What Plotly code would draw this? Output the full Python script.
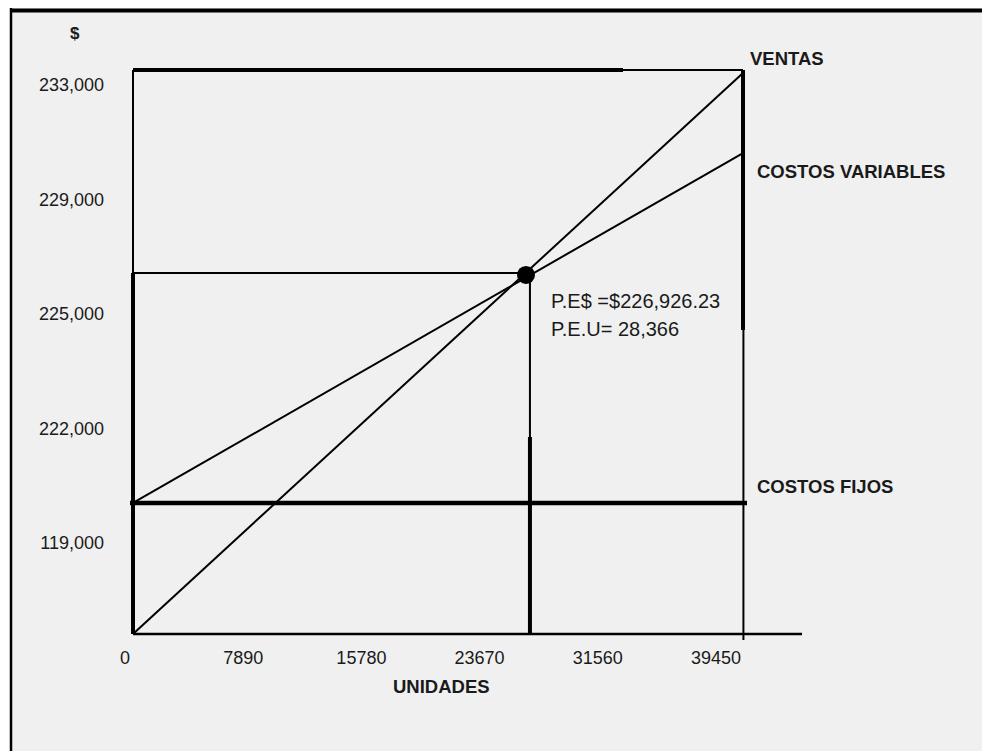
import plotly.graph_objects as go

# ---------------- data (in axis units) ----------------
x_tick_vals = [0, 7890, 15780, 23670, 31560, 39450]
x_tick_text = ["0", "7890", "15780", "23670", "31560", "39450"]

y_tick_vals = [233000, 229000, 225000, 221000, 217000]
y_tick_text = ["233,000", "229,000", "225,000", "222,000", "119,000"]

# sales line (VENTAS)
ventas_x = [534, 41252]
ventas_y = [213821, 233419]
# variable costs line (COSTOS VARIABLES)
cv_x = [534, 41252]
cv_y = [218398, 230624]
# fixed costs line (COSTOS FIJOS)
cf_x = [334, 41519]
cf_y = [218398, 218398]
# break-even point
pe_x = [26767]
pe_y = [226363]

# frame / guide segments
box_top_thick = ([534, 33242], [233524, 233524])
box_top_thin = ([33242, 41252], [233524, 233524])
left_thin = ([534, 534], [233524, 226432])
left_thick = ([534, 534], [226432, 213821])
pe_h = ([534, 26767], [226432, 226432])
pe_v_thin = ([27030, 27030], [226300, 220703])
pe_v_thick = ([27030, 27030], [220703, 213821])
right_thick = ([41252, 41252], [233524, 224441])
right_thin = ([41280, 41280], [224441, 213611])
x_axis = ([534, 45190], [213821, 213821])

# ---------------- geometry helpers for text placement ----------------
L, R, T, B = 112, 802, 60, 640
W, H = 982, 751


def px(xp):
    return (xp - L) / (R - L)


def py(yp):
    return 1 - (yp - T) / (B - T)


SANS = "Liberation Sans, Arial"
TXT = "#1a1a1a"

fig = go.Figure()


def seg(xy, width):
    fig.add_trace(go.Scatter(x=xy[0], y=xy[1], mode="lines",
                             line=dict(color="black", width=width),
                             hoverinfo="skip", showlegend=False,
                             cliponaxis=False))


seg(box_top_thick, 4)
seg(box_top_thin, 2)
seg(left_thin, 2)
seg(left_thick, 4)
seg(pe_h, 2)
seg(pe_v_thin, 2)
seg(pe_v_thick, 4)
seg(right_thick, 4)
seg(right_thin, 2)
seg(x_axis, 2.5)

fig.add_trace(go.Scatter(x=cf_x, y=cf_y, mode="lines", name="COSTOS FIJOS",
                         line=dict(color="black", width=4.5), showlegend=False,
                         cliponaxis=False))
fig.add_trace(go.Scatter(x=ventas_x, y=ventas_y, mode="lines", name="VENTAS",
                         line=dict(color="black", width=2), showlegend=False,
                         cliponaxis=False))
fig.add_trace(go.Scatter(x=cv_x, y=cv_y, mode="lines", name="COSTOS VARIABLES",
                         line=dict(color="black", width=2), showlegend=False,
                         cliponaxis=False))
fig.add_trace(go.Scatter(x=pe_x, y=pe_y, mode="markers", name="P.E.",
                         marker=dict(color="black", size=18), showlegend=False,
                         cliponaxis=False))

bold_font = dict(family=SANS, size=18.5, color=TXT, weight="bold")
annos = [
    dict(text="$", x=px(75), y=py(33), font=dict(family=SANS, size=17, color=TXT, weight="bold")),
    dict(text="VENTAS", x=px(748), y=py(58), xanchor="left", font=bold_font),
    dict(text="COSTOS VARIABLES", x=px(755), y=py(172), xanchor="left", font=bold_font),
    dict(text="COSTOS FIJOS", x=px(755), y=py(486), xanchor="left", font=bold_font),
    dict(text="UNIDADES", x=px(441), y=py(686), font=bold_font),
    dict(text="P.E$ =$226,926.23", x=px(549), y=py(301), xanchor="left",
         font=dict(family=SANS, size=20, color=TXT)),
    dict(text="P.E.U= 28,366", x=px(549), y=py(329), xanchor="left",
         font=dict(family=SANS, size=20, color=TXT)),
]
for a in annos:
    a.setdefault("xanchor", "center")
    fig.add_annotation(xref="paper", yref="paper", showarrow=False,
                       yanchor="middle", **a)

# outer page frame
shapes = [
    dict(type="rect", xref="paper", yref="paper", x0=px(0), x1=px(W), y0=py(0), y1=py(8),
         fillcolor="white", line=dict(width=0), layer="below"),
    dict(type="rect", xref="paper", yref="paper", x0=px(0), x1=px(10), y0=py(0), y1=py(H),
         fillcolor="white", line=dict(width=0), layer="below"),
    dict(type="line", xref="paper", yref="paper", x0=px(10), x1=px(W), y0=py(10.5), y1=py(10.5),
         line=dict(color="black", width=4)),
    dict(type="line", xref="paper", yref="paper", x0=px(11), x1=px(11), y0=py(8), y1=py(H),
         line=dict(color="black", width=2.5)),
]

x_range = [(L - 125) * 39450 / 591, (R - 125) * 39450 / 591]
y_step = 4000 / 114.5
y_range = [233000 - (B - 85) * y_step, 233000 - (T - 85) * y_step]

fig.update_layout(
    width=W, height=H,
    margin=dict(l=L, r=W - R, t=T, b=H - B, pad=0),
    paper_bgcolor="#f0f0f0", plot_bgcolor="#f0f0f0",
    shapes=shapes,
    xaxis=dict(range=x_range, tickvals=x_tick_vals, ticktext=x_tick_text,
               showgrid=False, zeroline=False, showline=False, ticks="",
               ticklabelstandoff=5,
               tickfont=dict(family=SANS, size=18, color=TXT), fixedrange=True),
    yaxis=dict(range=y_range, tickvals=y_tick_vals, ticktext=y_tick_text,
               showgrid=False, zeroline=False, showline=False, ticks="",
               ticklabelstandoff=7,
               tickfont=dict(family=SANS, size=18, color=TXT), fixedrange=True),
)

fig.write_html(
    "out.html",
    config={"displayModeBar": False},
    post_script="document.body.style.margin='0';document.body.style.overflow='hidden';",
)
